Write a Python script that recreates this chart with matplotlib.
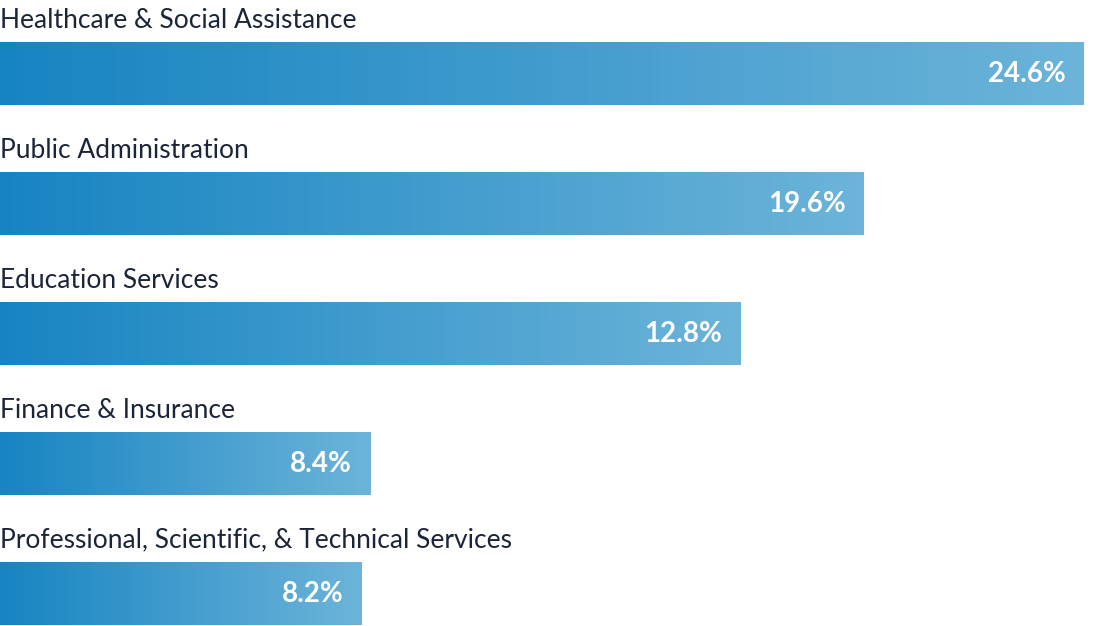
import numpy as np
import matplotlib
matplotlib.use("Agg")
import matplotlib.pyplot as plt
from matplotlib.colors import LinearSegmentedColormap

plt.rcParams['font.family'] = ['Lato', 'DejaVu Sans']

categories = ["Healthcare & Social Assistance", "Public Administration", "Education Services",
              "Finance & Insurance", "Professional, Scientific, & Technical Services"]
# bar lengths as drawn in the picture (Education bar is drawn longer than its label)
bar_values = [24.6, 19.6, 16.8, 8.4, 8.2]
value_labels = ["24.6%", "19.6%", "12.8%", "8.4%", "8.2%"]

W, H = 1104, 626
fig = plt.figure(figsize=(W / 100, H / 100), dpi=100)
ax = fig.add_axes([0, 0, 1, 1])
xmax = 24.6 * W / 1084
ax.set_xlim(0, xmax)
pitch = 130.0
ax.set_ylim((H - 73.5) / pitch, -73.5 / pitch)
bh = 63 / pitch

cmap = LinearSegmentedColormap.from_list("g", ["#1784c2", "#6cb4d9"])
grad = np.linspace(0, 1, 256).reshape(1, -1)
px = xmax / W  # data units per pixel

for i, (cat, v, lab) in enumerate(zip(categories, bar_values, value_labels)):
    bar = ax.barh(i, v, height=bh, left=0, color="none", edgecolor="none")[0]
    im = ax.imshow(grad, cmap=cmap, aspect="auto", interpolation="bicubic",
                   extent=(0, v, i + bh / 2, i - bh / 2), zorder=2)
    im.set_clip_path(bar)
    ax.text(0, i - bh / 2 - 22 / pitch, cat, ha="left", va="center",
            fontsize=19, color="#1b2539", zorder=3)
    ax.text(v - 18 * px, i + 1 / pitch, lab, ha="right", va="center",
            fontsize=20, fontweight="bold", color="white", zorder=3)

ax.axis("off")
fig.savefig("out.png", dpi=100)
